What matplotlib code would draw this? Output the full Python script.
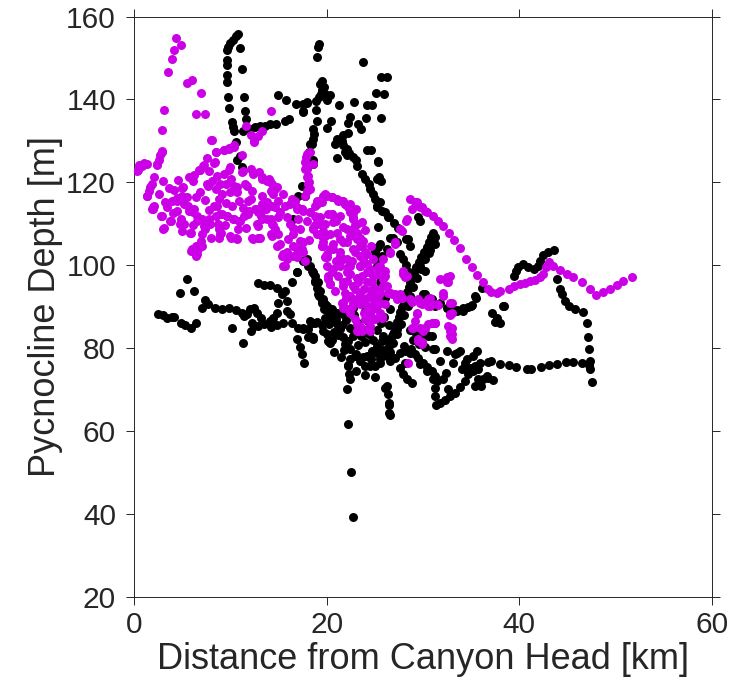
import matplotlib

matplotlib.use('Agg')
from matplotlib import pyplot as plt

# black casts: (distance km, pycnocline depth m)
black_north_track = [
    (10.83, 155.7), (10.59, 155.2), (10.31, 154.4), (9.97, 153.5), (9.79, 152.7), (9.69, 151.9),
    (11.0, 152.3), (9.62, 149.4), (9.69, 148.2), (11.18, 147.4), (9.62, 146.0), (9.62, 144.2),
    (9.79, 140.7), (11.42, 140.6), (9.9, 137.9), (11.52, 137.3), (11.63, 135.3), (10.14, 134.5),
    (10.24, 133.3), (10.38, 132.4), (11.35, 132.5), (12.04, 132.9), (12.56, 133.3), (13.08, 133.5),
    (13.6, 133.7), (14.12, 134.0), (14.71, 134.1), (15.68, 134.8), (16.12, 135.3), (10.59, 129.7),
    (11.0, 126.3), (10.66, 125.3), (11.18, 123.8),
    (14.98, 141.0), (15.78, 139.9), (16.82, 138.8), (17.51, 139.0), (17.57, 137.2), (17.99, 139.4),
    (18.89, 139.6), (19.24, 140.6), (19.38, 141.4), (19.31, 143.8), (19.03, 150.3), (19.21, 153.3),
    (19.13, 152.7), (19.48, 142.2), (19.83, 141.4), (20.0, 139.8), (18.97, 134.9), (18.55, 132.9),
    (18.69, 131.7), (18.45, 129.3), (18.27, 125.7), (18.55, 124.5), (17.47, 119.2), (16.99, 116.8),
    (17.93, 139.1), (17.57, 137.0), (18.86, 137.5), (20.35, 141.1), (20.42, 134.9), (20.0, 133.2),
    (18.61, 130.5), (18.2, 127.3), (18.61, 125.3), (17.75, 116.8), (19.7, 143.0), (19.5, 144.5),
    (16.54, 111.2), (18.27, 129.3),
]

black_ridge = [
    (23.74, 149.0), (25.61, 145.3), (26.23, 145.3), (25.12, 141.6), (25.95, 141.4), (21.31, 138.6),
    (22.84, 139.3), (24.16, 138.7), (24.74, 138.7), (22.42, 135.7), (22.25, 134.3), (23.28, 134.1),
    (23.53, 132.9), (24.08, 135.5), (25.61, 135.6), (22.25, 131.9), (21.66, 131.5), (21.04, 130.5),
    (20.87, 129.3), (21.56, 129.9), (21.73, 128.9), (22.08, 128.1), (22.35, 127.0), (21.04, 125.9),
    (22.77, 126.2), (23.05, 125.4), (23.12, 124.0), (24.57, 127.8), (25.36, 125.1), (23.64, 122.0),
    (23.98, 120.8), (24.43, 119.5), (24.5, 118.4), (24.78, 117.2), (25.47, 121.4), (25.61, 120.4),
    (25.02, 116.0), (25.26, 114.4), (25.71, 113.2), (24.16, 127.7), (25.36, 124.9), (25.19, 120.8),
    (21.9, 127.3), (22.14, 126.6), (25.54, 115.2), (25.19, 114.0), (26.06, 112.8), (26.5, 111.6),
    (26.99, 110.2), (27.44, 108.9), (26.4, 111.6), (25.36, 109.2), (26.58, 106.7), (25.36, 104.3),
    (25.02, 103.1), (28.24, 106.3), (28.65, 104.7), (29.51, 111.6), (29.69, 110.7), (26.92, 106.7),
    (27.27, 105.5), (28.48, 106.3), (25.54, 105.1), (25.02, 103.9), (26.23, 103.9), (25.71, 102.3),
    (25.36, 101.5), (25.19, 99.9), (25.88, 97.5), (25.54, 95.9), (25.19, 93.4), (26.06, 92.2),
    (26.58, 89.4), (23.46, 91.8), (27.6, 102.8), (27.9, 101.5), (28.2, 100.0), (28.5, 98.5),
]

black_west_band = [
    (2.53, 88.2), (3.05, 88.0), (3.46, 87.4), (3.91, 87.6), (4.15, 87.6), (4.85, 86.0), (5.29, 85.5),
    (5.88, 85.0), (6.44, 86.0), (4.78, 93.4), (5.47, 96.8), (6.23, 93.8), (7.03, 89.8), (7.37, 91.7),
    (7.71, 90.6), (8.41, 89.6), (9.1, 89.4), (9.9, 89.8), (10.59, 89.2), (11.18, 88.6), (11.42, 87.8),
    (11.7, 88.2), (12.04, 89.4), (12.46, 89.8), (12.8, 88.6), (10.14, 85.0), (11.35, 81.2),
    (12.11, 84.2), (12.22, 86.0), (12.9, 95.7), (13.5, 95.2), (14.12, 95.2), (14.81, 94.6),
    (15.33, 93.0), (15.68, 93.8), (15.85, 91.4), (15.85, 89.0), (16.19, 88.2), (14.98, 91.0),
    (14.81, 88.6), (14.46, 87.4), (14.12, 86.6), (13.5, 85.8), (12.9, 85.4), (12.46, 85.4),
    (13.15, 87.2), (14.19, 85.2), (14.88, 85.5), (15.43, 86.2), (16.37, 86.0), (17.06, 85.0),
    (17.58, 84.6), (18.1, 84.7), (18.45, 86.0), (18.97, 86.3), (19.48, 85.5), (19.65, 84.2),
    (20.0, 83.4), (20.17, 81.7), (16.89, 82.3), (17.23, 80.4), (17.41, 78.5), (17.65, 76.5),
    (16.37, 96.0), (16.95, 98.3), (17.58, 101.1), (17.93, 101.5), (18.27, 99.9), (18.55, 98.1),
    (18.79, 96.2), (18.97, 94.6), (19.24, 92.6), (19.48, 91.0), (19.72, 89.4), (18.27, 83.0),
    (18.61, 82.3), (16.95, 98.4), (18.61, 98.3), (18.1, 99.9), (18.45, 98.7), (18.79, 97.5),
    (19.13, 95.9), (19.31, 93.8), (19.65, 91.8), (20.0, 90.2), (20.52, 89.4), (21.04, 88.6),
    (21.73, 88.2), (22.25, 89.0), (22.77, 89.8),
]

black_core = [
    (18.79, 95.9), (19.13, 93.0), (19.48, 91.4), (19.83, 90.6), (20.17, 89.0), (20.52, 87.8),
    (20.69, 86.6), (21.04, 85.8), (21.38, 84.6), (18.27, 86.6), (18.79, 86.2), (17.58, 85.0),
    (18.1, 82.6), (18.61, 82.6), (20.52, 82.1), (20.35, 81.3), (21.73, 82.6), (22.25, 81.7),
    (22.77, 82.9), (23.28, 80.9), (22.42, 79.7), (22.94, 78.1), (23.46, 76.9), (23.98, 75.7),
    (24.5, 75.7), (25.02, 75.7), (25.54, 76.5), (22.42, 77.3), (22.25, 75.7), (22.35, 73.7),
    (22.42, 72.5), (22.08, 70.1), (24.16, 78.1), (24.68, 79.3), (25.19, 80.5), (25.71, 81.7),
    (26.23, 82.1), (26.92, 83.4), (27.27, 84.6), (26.23, 78.1), (26.58, 76.9), (27.09, 77.7),
    (27.61, 78.9), (28.13, 79.3), (28.65, 78.9), (29.17, 78.5), (29.51, 77.7), (30.03, 76.5),
    (30.38, 75.5), (30.9, 74.5), (31.25, 73.3), (31.42, 72.1), (27.61, 75.3), (27.96, 73.7),
    (28.31, 72.5), (28.83, 71.7), (28.13, 76.5), (26.23, 70.9), (26.4, 68.9), (26.5, 66.8),
    (26.5, 64.4), (26.06, 70.5), (25.54, 77.3), (26.5, 66.2), (26.58, 64.0),
    (20.8, 84.0), (21.2, 83.2), (21.6, 85.5), (22.0, 86.8), (22.4, 85.0), (22.8, 84.2), (23.2, 86.0),
    (23.6, 83.0), (24.0, 81.5), (24.4, 83.5), (24.8, 82.0), (25.2, 84.5), (25.6, 86.0), (26.0, 87.5),
    (23.0, 78.5), (23.8, 78.0), (24.6, 77.5), (25.2, 78.8), (25.8, 79.6), (21.8, 79.5), (22.2, 76.0),
    (23.0, 74.5), (24.0, 73.5), (25.0, 73.0), (21.5, 77.8), (20.8, 79.0), (24.3, 86.5), (24.0, 89.0),
    (22.8, 88.0), (21.9, 81.0), (26.5, 85.5), (25.8, 83.0), (20.2, 85.8), (19.8, 87.3), (21.0, 87.0),
    (22.25, 61.8), (22.5, 50.2), (22.7, 39.2),
]

black_rising_line = [
    (26.1, 78.5), (26.3, 79.5), (26.5, 80.6), (26.6, 81.8), (26.8, 82.9), (27.0, 84.0), (27.1, 85.2),
    (27.3, 86.4), (27.5, 87.6), (27.6, 88.8), (27.8, 90.0), (28.0, 91.2), (28.2, 92.4), (28.3, 93.6),
    (28.5, 94.8), (28.7, 96.0), (28.9, 97.2), (29.1, 98.4), (29.3, 99.6), (29.6, 100.8), (29.8, 102.0),
    (30.1, 103.2), (30.4, 104.4), (30.6, 105.6), (30.8, 106.8), (31.0, 107.9), (30.9, 106.0),
    (31.2, 105.2), (30.6, 103.0), (29.9, 101.2), (26.6, 79.2), (26.9, 81.3), (27.3, 83.5),
    (27.7, 85.8), (28.0, 88.0), (28.4, 90.3), (28.7, 92.5), (29.0, 94.8), (29.4, 97.0), (29.8, 99.2),
    (30.2, 101.4), (30.7, 103.8), (31.2, 106.8), (28.31, 93.0), (30.21, 93.0), (30.55, 91.8),
    (31.25, 90.2), (29.69, 99.9), (30.21, 98.7), (30.04, 93.0), (30.9, 91.8),
    (28.6, 84.5), (29.2, 83.8), (29.8, 83.5), (30.5, 83.0), (29.0, 82.0), (29.6, 81.0), (30.2, 80.2),
    (28.0, 80.5), (28.8, 79.8),
]

black_east = [
    (30.38, 83.1), (30.9, 82.9), (31.25, 79.9), (31.77, 76.9), (33.32, 78.5), (33.84, 79.3),
    (34.36, 76.5), (35.22, 78.1), (35.58, 79.3), (33.15, 76.5), (34.02, 74.9), (34.88, 75.3),
    (35.4, 75.7), (35.74, 74.9), (36.78, 76.7), (37.03, 76.9), (29.69, 76.1), (30.38, 74.5),
    (31.07, 72.5), (31.25, 70.5), (31.25, 68.4), (31.35, 66.4), (31.77, 66.8), (32.28, 67.6),
    (32.8, 68.4), (33.32, 69.3), (33.84, 70.7), (34.36, 72.1), (34.7, 73.7), (35.16, 74.5),
    (35.74, 72.5), (36.26, 72.5), (36.78, 72.9), (37.3, 72.3), (35.99, 70.9), (35.4, 71.0),
    (32.39, 74.1), (32.11, 72.5), (32.63, 70.1), (31.07, 79.7), (32.46, 79.3), (33.5, 78.9),
    (34.54, 77.3), (35.92, 76.5), (36.61, 73.3), (31.77, 91.0), (32.46, 89.8), (32.98, 89.4),
    (33.5, 89.2), (34.19, 89.8), (35.05, 90.4), (33.5, 89.0), (34.2, 89.0), (35.0, 90.1),
    (35.5, 92.2), (36.1, 94.6), (37.2, 88.4), (37.7, 86.8), (38.0, 86.0), (38.3, 90.1),
    (38.41, 90.1), (37.48, 86.3), (37.65, 87.4), (35.4, 92.6), (34.71, 90.0),
    (38.0, 76.3), (38.9, 75.9), (39.7, 75.5), (40.8, 74.9), (41.18, 75.1), (42.2, 75.5),
    (43.1, 75.9), (43.9, 76.3), (44.8, 76.8), (45.6, 76.7), (46.5, 76.5), (47.2, 76.0),
    (39.4, 97.5), (39.6, 98.7), (39.9, 99.7), (40.4, 100.3), (40.9, 99.5), (41.5, 99.2),
    (41.9, 99.9), (42.1, 101.1), (42.5, 102.5), (43.0, 103.1), (43.6, 103.7), (43.9, 96.7),
    (44.2, 94.2), (44.4, 93.0), (44.7, 91.4), (45.2, 90.2), (45.8, 89.4), (46.6, 88.7),
    (47.0, 86.2), (47.1, 82.6), (47.2, 79.7), (47.3, 76.9), (47.3, 74.9), (47.5, 71.8),
]

# magenta casts
magenta_northwest = [
    (4.36, 154.9), (4.85, 153.2), (4.15, 152.0), (3.91, 149.8), (3.56, 146.7), (5.53, 144.0),
    (5.99, 144.6), (6.92, 141.6), (3.11, 137.4), (6.44, 136.6), (7.4, 136.6), (14.25, 137.3),
    (2.94, 132.6), (11.6, 133.5), (12.11, 131.4), (12.9, 131.2), (13.29, 132.4), (12.46, 129.8),
    (8.07, 130.3), (10.38, 128.6), (9.86, 128.2), (9.34, 127.8), (8.51, 127.4), (2.94, 127.5),
    (2.7, 126.5), (2.42, 124.3), (1.32, 124.5), (0.8, 124.0), (0.45, 123.0), (7.55, 125.9),
    (8.41, 124.9), (7.19, 124.0), (6.85, 123.0), (9.97, 123.7), (11.35, 122.8), (12.39, 122.0),
    (13.26, 121.2), (14.12, 120.4), (14.81, 118.8), (15.5, 117.2), (16.37, 116.0), (16.89, 114.0),
    (17.58, 113.2), (18.97, 115.6), (19.65, 116.8), (12.22, 118.0), (11.52, 119.6), (10.66, 118.8),
    (9.97, 117.6), (8.93, 119.6), (7.71, 119.2), (6.16, 120.4), (5.12, 118.8), (4.43, 115.6),
    (3.22, 115.2), (2.01, 114.0), (1.66, 118.8), (1.32, 116.8),
]

magenta_band = [
    (7.96, 130.1), (8.48, 127.3), (8.3, 124.7), (9.34, 127.7), (9.86, 128.1), (10.38, 128.9),
    (12.46, 129.9), (11.25, 126.6), (2.94, 127.4), (2.42, 124.5), (2.6, 125.5), (1.04, 124.7),
    (0.52, 124.1), (0.35, 122.8), (2.08, 121.2), (1.9, 119.6), (1.56, 118.0), (1.38, 116.6),
    (2.6, 117.2), (2.08, 114.4), (1.9, 113.6), (2.77, 112.0), (3.11, 108.9), (3.81, 110.8),
    (3.98, 115.4), (4.5, 116.2), (5.02, 118.6), (5.71, 121.2), (6.23, 121.8), (6.75, 123.1),
    (7.27, 124.2), (7.79, 122.8), (7.61, 119.6), (8.65, 121.6), (9.34, 122.0), (9.86, 123.1),
    (10.03, 120.8), (10.38, 119.2), (11.25, 122.4), (12.11, 123.2), (12.98, 122.4), (14.01, 120.8),
    (14.19, 118.0), (13.32, 116.8), (12.11, 116.0), (13.67, 115.2), (14.36, 114.4), (5.02, 116.8),
    (5.54, 116.4), (6.4, 116.4), (5.19, 114.8), (5.71, 113.2), (6.23, 113.6), (6.57, 112.0),
    (4.5, 113.2), (4.84, 111.2), (5.19, 110.0), (5.88, 107.9), (6.92, 111.2), (7.27, 109.5),
    (7.09, 107.5), (6.92, 105.9), (6.4, 104.7), (5.88, 103.5), (6.4, 102.3), (7.79, 111.2),
    (8.48, 112.0), (9.17, 112.4), (9.69, 112.0), (10.38, 111.2), (10.9, 110.8), (11.42, 112.0),
    (11.94, 113.2), (12.63, 113.6), (13.15, 112.0), (13.67, 113.6), (8.82, 108.7), (9.0, 107.9),
    (8.82, 106.7), (7.96, 106.7), (10.03, 106.7), (10.55, 106.5), (12.28, 106.5), (12.98, 106.7),
    (12.87, 109.4), (14.19, 111.2), (14.19, 107.5), (8.3, 114.4), (8.82, 116.0), (9.17, 117.2),
    (8.48, 118.4), (8.13, 120.4), (9.52, 119.6), (10.73, 117.6), (11.76, 119.2),
    (2.01, 113.6), (2.87, 112.0), (3.05, 108.7), (3.74, 110.8), (4.78, 110.0), (4.95, 108.3),
    (5.64, 114.4), (6.16, 112.8), (5.81, 107.9), (6.5, 110.8), (7.02, 111.2), (7.37, 108.7),
    (7.89, 110.0), (8.75, 110.0), (8.93, 107.5), (8.93, 112.4), (8.58, 114.4), (9.62, 112.0),
    (10.31, 111.2), (11.0, 110.8), (11.87, 112.4), (12.56, 113.6), (12.91, 112.8), (12.73, 110.0),
    (12.91, 106.7), (12.39, 106.3), (10.66, 106.3), (9.97, 107.1), (13.25, 114.8), (13.77, 115.2),
    (14.64, 114.0), (14.98, 111.6), (14.46, 109.6), (14.98, 107.5), (15.16, 105.1), (15.5, 102.7),
    (15.68, 99.9), (15.85, 101.5), (16.54, 102.3), (16.89, 103.9), (17.58, 103.1), (16.54, 107.5),
    (17.58, 105.5), (18.79, 109.6), (19.48, 107.1), (19.65, 104.7), (20.0, 101.9), (20.17, 96.7),
    (18.96, 111.2), (20.17, 112.4), (7.02, 104.7), (6.68, 103.9), (5.99, 103.9), (6.5, 102.7),
    (3.4, 114.0), (4.0, 112.6), (4.2, 118.2), (6.9, 117.6), (7.4, 115.8), (7.8, 113.4),
    (9.6, 115.0), (10.2, 114.2), (10.9, 115.4), (11.3, 113.9), (11.8, 115.6), (10.8, 108.8),
    (11.6, 109.0), (9.4, 109.6), (6.1, 109.8), (3.6, 118.6), (3.0, 120.4), (4.6, 120.6),
]

magenta_cluster = [
    (17.92, 126.9), (18.27, 127.3), (17.75, 124.9), (17.92, 123.2), (18.1, 121.6), (18.2, 120.0),
    (18.27, 118.4), (17.86, 126.1), (18.55, 124.5), (17.75, 123.2), (17.93, 121.2), (18.1, 119.6),
    (18.0, 118.0), (17.75, 116.6), (19.83, 117.2), (20.52, 116.4), (21.21, 115.6), (21.9, 114.8),
    (22.42, 113.6), (22.77, 112.5), (19.31, 115.2), (18.79, 114.4),
    (13.25, 120.8), (13.77, 120.4), (14.29, 119.6), (14.64, 118.4), (14.46, 117.2), (13.6, 115.2),
    (13.43, 113.6), (13.25, 111.2), (13.77, 111.2), (14.29, 110.0), (14.64, 108.7), (14.98, 115.6),
    (15.68, 114.4), (16.19, 114.8), (16.71, 115.6), (16.89, 113.6), (17.41, 113.6), (15.16, 112.8),
    (15.85, 111.6), (16.19, 110.0), (16.54, 109.1), (17.23, 108.7), (17.92, 110.8), (18.27, 112.8),
    (18.79, 112.0), (19.31, 111.6), (18.96, 115.2), (19.48, 115.2), (20.0, 116.8), (20.52, 116.4),
    (21.04, 116.0), (21.56, 115.6), (21.9, 114.8), (22.25, 114.0), (22.42, 112.8), (22.77, 111.6),
    (23.11, 110.0), (23.63, 110.4), (22.77, 108.7), (22.08, 108.7), (22.42, 107.1), (23.11, 106.3),
    (23.46, 104.7), (20.52, 112.4), (19.83, 110.0), (20.35, 107.5), (21.04, 107.9), (21.38, 106.3),
    (22.08, 105.5), (22.77, 103.9), (23.46, 102.3), (24.15, 102.7), (24.85, 101.5), (25.54, 99.9),
    (26.06, 98.7), (20.69, 103.9), (21.38, 103.1), (21.73, 101.5), (22.25, 99.5), (20.0, 102.7),
    (19.48, 104.7), (18.62, 109.1), (18.96, 107.5), (19.83, 107.1), (17.23, 105.9), (16.54, 104.7),
    (15.85, 103.1), (15.33, 102.3), (15.5, 99.9), (14.81, 104.7), (14.29, 107.1), (13.08, 106.7),
    (17.41, 103.9), (16.89, 101.9), (20.0, 99.9), (20.52, 98.3), (22.08, 98.3), (24.15, 98.3),
    (25.19, 97.9), (23.46, 99.9),
    (17.4, 113.6), (18.27, 112.8), (18.96, 114.8), (19.31, 115.6), (20.52, 112.4), (20.69, 110.4),
    (19.31, 110.0), (18.61, 108.7), (19.65, 108.3), (21.73, 115.6), (22.42, 114.8), (22.59, 112.8),
    (22.77, 111.2), (22.94, 109.6), (23.11, 107.9), (23.46, 106.7), (23.8, 105.9), (23.63, 104.7),
    (23.98, 103.1), (23.8, 101.5), (24.15, 100.3), (24.5, 99.1), (24.84, 97.5), (25.36, 99.5),
    (25.71, 97.9), (26.05, 97.5), (24.67, 95.9), (25.02, 94.2), (25.36, 92.6), (25.53, 91.0),
    (24.84, 89.4), (25.71, 87.8), (24.5, 88.2), (23.98, 87.0), (23.46, 85.4), (23.29, 84.2),
    (24.5, 85.4), (25.02, 87.0), (22.42, 97.9), (22.07, 96.3), (21.73, 95.0), (21.9, 93.4),
    (22.42, 92.6), (22.94, 94.2), (23.29, 95.9), (21.38, 99.9), (20.69, 99.1), (20.17, 97.5),
    (20.34, 95.5), (19.83, 101.9), (19.48, 104.7), (19.65, 105.5), (20.69, 105.1), (21.73, 105.5),
    (21.38, 102.3), (22.07, 101.5), (22.42, 99.9), (22.94, 103.1), (23.46, 99.9), (23.63, 97.5),
    (24.15, 95.9), (24.5, 92.6), (23.8, 91.8), (24.15, 90.2), (22.77, 91.0), (22.07, 89.4),
    (21.56, 91.0), (26.57, 93.4), (27.61, 93.0), (27.26, 91.8), (28.3, 97.5), (27.96, 98.7),
    (28.3, 111.2), (27.61, 108.7), (27.09, 105.5), (26.57, 103.1), (28.65, 91.8), (29.51, 91.8),
    (30.55, 91.8), (31.42, 90.6), (30.72, 90.2), (31.24, 86.2), (30.55, 85.8), (29.69, 85.0),
    (29.51, 82.2), (29.86, 81.4), (29.34, 88.6), (28.82, 85.0), (31.76, 96.7), (32.45, 97.1),
    (32.63, 95.9), (32.8, 88.2), (32.97, 85.0), (32.97, 83.4), (32.8, 83.0), (28.48, 76.5),
    (22.94, 87.0), (23.11, 84.2), (24.5, 84.2), (23.46, 90.6), (26.05, 90.6),
    (28.83, 113.6), (28.24, 110.8), (27.79, 108.3), (27.1, 105.1), (26.58, 102.9), (25.89, 101.5),
    (25.89, 96.7), (25.89, 95.0), (27.96, 97.9), (28.14, 97.1), (32.8, 97.5), (32.46, 95.9),
    (32.11, 93.4), (32.11, 92.6), (30.73, 92.2), (29.86, 91.0), (28.83, 91.2), (27.79, 92.2),
    (26.75, 93.0), (26.58, 93.4), (30.73, 90.6), (31.6, 90.4), (32.98, 90.9),
    (29.86, 90.6), (30.55, 90.6), (32.8, 90.9), (32.98, 88.6), (32.8, 88.0), (31.25, 86.2),
    (30.9, 86.0), (30.21, 85.0), (30.04, 84.2), (32.63, 85.4), (32.8, 84.2), (32.98, 82.3),
    (29.86, 81.3), (20.34, 95.4), (21.73, 95.9), (22.77, 95.0), (23.46, 93.4), (24.15, 92.2),
    (24.84, 92.6), (25.53, 93.4), (26.23, 95.0), (25.19, 90.2), (25.53, 88.6), (24.84, 87.4),
    (25.71, 87.4), (24.5, 86.6), (24.15, 84.6), (23.63, 84.2), (23.11, 85.8), (22.42, 88.6),
    (21.73, 89.8), (21.73, 91.0), (26.4, 93.3), (27.09, 93.0), (27.78, 92.2), (28.82, 91.4),
    (29.69, 91.0), (30.55, 90.2), (30.9, 90.6), (29.34, 88.2), (29.17, 86.6), (29.0, 85.0),
    (30.21, 85.0), (31.07, 86.2), (29.51, 81.7), (29.86, 81.0),
    (21.0, 110.6), (21.7, 109.2), (21.4, 112.0), (20.3, 104.0), (21.0, 101.0), (22.6, 101.0),
    (23.1, 97.0), (23.9, 94.4), (24.6, 94.0), (23.2, 92.2), (22.6, 90.0), (23.9, 88.6),
    (24.9, 90.8), (22.0, 92.0), (20.9, 93.8), (21.2, 97.4), (24.0, 108.4), (24.6, 104.6),
    (23.0, 113.6), (17.0, 111.2), (16.0, 106.4), (18.2, 106.2), (17.8, 101.0),
]

magenta_east_track = [
    (28.65, 116.0), (29.17, 115.2), (29.69, 114.1), (30.21, 113.2), (29.35, 115.2), (29.87, 114.0),
    (30.39, 112.8), (31.0, 111.8), (31.6, 110.7), (32.1, 109.5), (32.7, 107.8), (33.2, 106.2),
    (33.8, 104.1), (34.5, 101.5), (35.1, 99.5), (35.6, 97.6), (36.2, 96.0), (36.7, 94.2),
    (37.1, 93.6), (37.7, 93.3), (38.0, 93.8), (38.9, 94.4), (39.4, 95.0), (40.1, 95.4),
    (40.6, 95.8), (41.1, 96.2), (41.6, 96.5), (42.1, 97.1), (42.5, 97.9), (42.8, 99.7),
    (43.1, 100.8), (43.5, 99.9), (44.2, 98.9), (44.9, 98.0), (45.6, 97.1), (46.5, 95.9),
    (47.3, 94.4), (48.0, 92.9), (48.7, 93.6), (49.4, 94.4), (50.1, 95.2), (50.8, 96.1),
    (51.7, 97.1),
]

black_all = (black_north_track + black_ridge + black_west_band + black_core
             + black_rising_line + black_east)
magenta_all = magenta_northwest + magenta_band + magenta_cluster + magenta_east_track

plt.rcParams['font.family'] = ['Liberation Sans', 'DejaVu Sans']
fig = plt.figure(figsize=(7.33, 6.91), dpi=100)
ax = fig.add_axes([0.1828, 0.136, 0.7886, 0.8401])

ax.scatter([p[0] for p in black_all], [p[1] for p in black_all],
           s=42, c='black', linewidths=0, zorder=2)
ax.scatter([p[0] for p in magenta_all], [p[1] for p in magenta_all],
           s=42, c='#cc00e6', linewidths=0, zorder=3)

ax.set_xlim(0, 60)
ax.set_ylim(20, 160)
ax.set_xticks([0, 20, 40, 60])
ax.set_yticks([20, 40, 60, 80, 100, 120, 140, 160])
ax.tick_params(direction='out', length=6, width=0.7, top=True, right=True,
               labelsize=21.5, colors='#262626', pad=7)
ax.tick_params(axis='x', pad=4)
for sp in ax.spines.values():
    sp.set_color('#262626')
    sp.set_linewidth(0.7)
ax.set_xlabel('Distance from Canyon Head [km]', fontsize=26, color='#262626', labelpad=2)
ax.set_ylabel('Pycnocline Depth [m]', fontsize=26, color='#262626', labelpad=2)

fig.savefig('out.png', dpi=100)
